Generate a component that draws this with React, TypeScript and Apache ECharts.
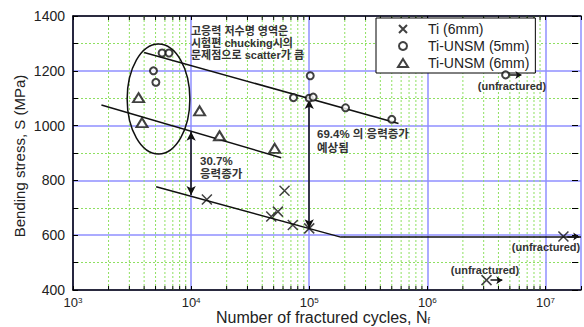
import React, { useEffect, useRef } from 'react';
import * as echarts from 'echarts';

// ---- data ----
const tiCycles = [13600, 47700, 54300, 61800, 72600, 100000];
const tiStress = [730, 668, 686, 762, 637, 625];
const tiRunoutCycles = [14200000, 3170000];
const tiRunoutStress = [595, 436];

const u5Cycles = [4800, 5030, 5680, 6500, 73600, 100000, 108000, 102000, 203000, 500000];
const u5Stress = [1200, 1158, 1265, 1265, 1102, 1100, 1104, 1182, 1065, 1023];
const u5RunoutCycles = [4600000];
const u5RunoutStress = [1185];

const u6Cycles = [3590, 3840, 11800, 17400, 51000];
const u6Stress = [1102, 1011, 1054, 963, 917];

const fitU5Cycles = [4000, 570000];
const fitU5Stress = [1267, 1008];
const fitU6Cycles = [1740, 57900];
const fitU6Stress = [1075, 883];
const fitTiCycles = [5060, 185000, 20000000];
const fitTiStress = [777, 593, 593];

const arrowCycles = [10000, 100000];
const arrowLow = [747, 625];
const arrowHigh = [978, 1093];

// ellipse bounding box (cycles, stress)
const ellipseBox = [2874, 1298, 9760, 896];

const xMin = 1000;
const xMax = 20000000;
const yMin = 400;
const yMax = 1400;

const minorX: number[] = [];
for (let e = 3; e < 7; e++) for (let m = 2; m <= 9; m++) minorX.push(m * Math.pow(10, e));

const BLUE = '#8f8fff';
const GREEN = '#8ee060';
const FONT = '"Liberation Sans", Arial, sans-serif';
const KFONT = '"Liberation Sans", Arial, "Noto Sans CJK KR", sans-serif';

const zip = (a: number[], b: number[]) => a.map((v, i) => [v, b[i]]);

export default function App() {
  const ref = useRef<HTMLDivElement>(null);
  useEffect(() => {
    if (!ref.current) return;
    const chart = echarts.init(ref.current, null, { renderer: 'svg' });
    const runoutArrow = (c: number, s: number) => [
      { coord: [c * 1.08, s] },
      { coord: [c * 1.36, s] },
    ];
    const option: any = {
      animation: false,
      backgroundColor: '#fff',
      grid: { left: 73, top: 16, width: 513, height: 274 },
      xAxis: [
        {
          type: 'log', logBase: 10, min: xMin, max: xMax, position: 'bottom',
          axisLine: { lineStyle: { color: '#000', width: 1.5 } },
          axisTick: { inside: true, length: 4, lineStyle: { color: '#000' } },
          splitLine: { show: true, lineStyle: { color: BLUE, width: 1.5 } },
          axisLabel: {
            margin: 6, color: '#222', fontFamily: FONT,
            formatter: (v: number) => {
              const e = Math.round(Math.log10(v));
              if (Math.abs(Math.pow(10, e) - v) > v * 1e-6) return '';
              return '{a|10}{s|' + e + '}';
            },
            rich: {
              a: { fontSize: 13, fontFamily: FONT, color: '#222', verticalAlign: 'bottom', lineHeight: 13 },
              s: { fontSize: 8, fontFamily: FONT, color: '#222', verticalAlign: 'top', lineHeight: 8 },
            },
          },
        },
        {
          type: 'log', logBase: 10, min: xMin, max: xMax, position: 'top',
          axisLine: { lineStyle: { color: '#000', width: 1.5 } },
          axisTick: { inside: true, length: 4, lineStyle: { color: '#000' } },
          axisLabel: { show: false }, splitLine: { show: false },
        },
      ],
      yAxis: [
        {
          type: 'value', min: yMin, max: yMax, interval: 200, position: 'left',
          axisLine: { show: true, lineStyle: { color: '#000', width: 1.5 } },
          axisTick: { show: true, inside: true, length: 5, lineStyle: { color: '#000' } },
          minorTick: { show: true, splitNumber: 2, length: 5, lineStyle: { color: '#000' } },
          splitLine: { show: true, lineStyle: { color: BLUE, width: 1.5 } },
          minorSplitLine: { show: true, lineStyle: { color: GREEN, type: [2, 2], width: 1 } },
          axisLabel: { margin: 8, fontSize: 14, color: '#222', fontFamily: FONT, formatter: (v: number) => String(v) },
        },
        {
          type: 'value', min: yMin, max: yMax, interval: 200, position: 'right', offset: -3,
          axisLine: { show: false },
          axisTick: { show: true, inside: true, length: 6, lineStyle: { color: '#000' } },
          minorTick: { show: true, splitNumber: 2, length: 6, lineStyle: { color: '#000' } },
          splitLine: { show: false }, axisLabel: { show: false },
        },
      ],
      legend: {
        left: 376, top: 18, orient: 'vertical',
        backgroundColor: '#fff', borderColor: '#000', borderWidth: 1,
        padding: [4, 6, 3, 21], itemGap: 3, itemWidth: 10, itemHeight: 8,
        textStyle: { fontSize: 14, color: '#222', fontFamily: FONT, padding: [0, 0, 0, 15] },
        data: ['Ti (6mm)', 'Ti-UNSM (5mm)', 'Ti-UNSM (6mm)'],
      },
      series: [
        {
          type: 'custom', name: 'minorGrid', silent: true, z: 1,
          data: minorX.map((v) => [v, yMin]),
          encode: { x: 0, y: 1 },
          renderItem: (_p: any, api: any) => {
            const x = api.value(0);
            const b = api.coord([x, yMin]);
            const t = api.coord([x, yMax]);
            return {
              type: 'group',
              children: [
                { type: 'line', shape: { x1: b[0], y1: b[1], x2: t[0], y2: t[1] }, style: { stroke: GREEN, lineWidth: 1, lineDash: [2, 2] } },
                { type: 'line', shape: { x1: b[0], y1: b[1], x2: b[0], y2: b[1] - 4 }, style: { stroke: '#000', lineWidth: 1 } },
                { type: 'line', shape: { x1: t[0], y1: t[1], x2: t[0], y2: t[1] + 4 }, style: { stroke: '#000', lineWidth: 1 } },
              ],
            };
          },
        },
        {
          type: 'custom', name: 'ellipse', silent: true, z: 3,
          data: [ellipseBox],
          encode: { x: [0, 2], y: [1, 3] },
          renderItem: (_p: any, api: any) => {
            const p1 = api.coord([api.value(0), api.value(1)]);
            const p2 = api.coord([api.value(2), api.value(3)]);
            return {
              type: 'ellipse',
              shape: { cx: (p1[0] + p2[0]) / 2, cy: (p1[1] + p2[1]) / 2, rx: Math.abs(p2[0] - p1[0]) / 2, ry: Math.abs(p2[1] - p1[1]) / 2 },
              style: { fill: 'none', stroke: '#111', lineWidth: 1.5 },
            };
          },
        },
        {
          type: 'line', name: 'fitU5', data: zip(fitU5Cycles, fitU5Stress), symbol: 'none', silent: true, z: 4,
          lineStyle: { color: '#111', width: 1.5 },
        },
        {
          type: 'line', name: 'fitU6', data: zip(fitU6Cycles, fitU6Stress), symbol: 'none', silent: true, z: 4,
          lineStyle: { color: '#111', width: 1.5 },
        },
        {
          type: 'line', name: 'fitTi', data: zip(fitTiCycles, fitTiStress), symbol: 'none', silent: true, z: 4,
          lineStyle: { color: '#111', width: 1.5 },
          markLine: {
            silent: true, symbol: ['arrow', 'arrow'], symbolSize: [7, 9],
            label: { show: false },
            lineStyle: { color: '#111', width: 1.5, type: 'solid' },
            data: arrowCycles.map((c, i) => [{ coord: [c, arrowLow[i]] }, { coord: [c, arrowHigh[i]] }]),
          },
        },
        {
          type: 'scatter', name: 'Ti (6mm)', z: 5,
          data: zip(tiCycles, tiStress).concat(zip(tiRunoutCycles, tiRunoutStress)),
          symbol: 'path://M0,0L10,10M10,0L0,10', symbolSize: 10,
          itemStyle: { color: '#111', borderColor: '#111', borderWidth: 1.5 },
          markLine: {
            silent: true, symbol: ['none', 'arrow'], symbolSize: 6, label: { show: false },
            lineStyle: { color: '#111', width: 1.5, type: 'solid' },
            data: tiRunoutCycles.map((c, i) => runoutArrow(c, tiRunoutStress[i])),
          },
        },
        {
          type: 'scatter', name: 'Ti-UNSM (5mm)', z: 5,
          data: zip(u5Cycles, u5Stress).concat(zip(u5RunoutCycles, u5RunoutStress)),
          symbol: 'emptyCircle', symbolSize: 7,
          itemStyle: { color: '#111', borderColor: '#111', borderWidth: 1.2 },
          markLine: {
            silent: true, symbol: ['none', 'arrow'], symbolSize: 6, label: { show: false },
            lineStyle: { color: '#111', width: 1.5, type: 'solid' },
            data: u5RunoutCycles.map((c, i) => runoutArrow(c, u5RunoutStress[i])),
          },
        },
        {
          type: 'scatter', name: 'Ti-UNSM (6mm)', z: 5,
          data: zip(u6Cycles, u6Stress),
          symbol: 'emptyTriangle', symbolSize: [11, 9],
          itemStyle: { color: '#111', borderColor: '#111', borderWidth: 1.2 },
        },
      ],
      graphic: [
        {
          type: 'text', left: 191, top: 25, z: 10,
          style: { text: '고응력 저수명 영역은\n시험편 chucking시의\n문제점으로 scatter가 큼', fontSize: 11, lineHeight: 12, fontWeight: 'bold', fill: '#333', fontFamily: KFONT },
        },
        {
          type: 'text', left: 200, top: 154, z: 10,
          style: { text: '30.7%\n응력증가', fontSize: 11.5, lineHeight: 13, fontWeight: 'bold', fill: '#333', fontFamily: KFONT },
        },
        {
          type: 'text', left: 317, top: 127, z: 10,
          style: { text: '69.4% 의 응력증가\n예상됨', fontSize: 11.5, lineHeight: 14, fontWeight: 'bold', fill: '#333', fontFamily: KFONT },
        },
        {
          type: 'text', x: 512, y: 86, z: 10,
          style: { text: '(unfractured)', fontSize: 11, fontWeight: 'bold', fill: '#333', fontFamily: FONT, align: 'center', verticalAlign: 'middle' },
        },
        {
          type: 'text', x: 546, y: 247, z: 10,
          style: { text: '(unfractured)', fontSize: 11, fontWeight: 'bold', fill: '#333', fontFamily: FONT, align: 'center', verticalAlign: 'middle' },
        },
        {
          type: 'text', x: 485, y: 270, z: 10,
          style: { text: '(unfractured)', fontSize: 11, fontWeight: 'bold', fill: '#333', fontFamily: FONT, align: 'center', verticalAlign: 'middle' },
        },
        {
          type: 'text', x: 323, y: 317, z: 10,
          style: {
            text: '{a|Number of fractured cycles, N}{f|f}',
            align: 'center', verticalAlign: 'middle', fill: '#222',
            rich: {
              a: { fontSize: 16, fontFamily: FONT, fill: '#222', lineHeight: 16 },
              f: { fontSize: 9, fontFamily: FONT, fill: '#222', verticalAlign: 'bottom', lineHeight: 9, padding: [4, 0, 0, 0] },
            },
          },
        },
        {
          type: 'text', x: 19, y: 156, rotation: Math.PI / 2, z: 10,
          style: { text: 'Bending stress, S (MPa)', fontSize: 15, fontFamily: FONT, fill: '#222', align: 'center', verticalAlign: 'middle' },
        },
      ],
    };
    chart.setOption(option);
    return () => chart.dispose();
  }, []);
  return <div ref={ref} style={{ position: 'absolute', left: 0, top: 0, width: 584, height: 327 }} />;
}
